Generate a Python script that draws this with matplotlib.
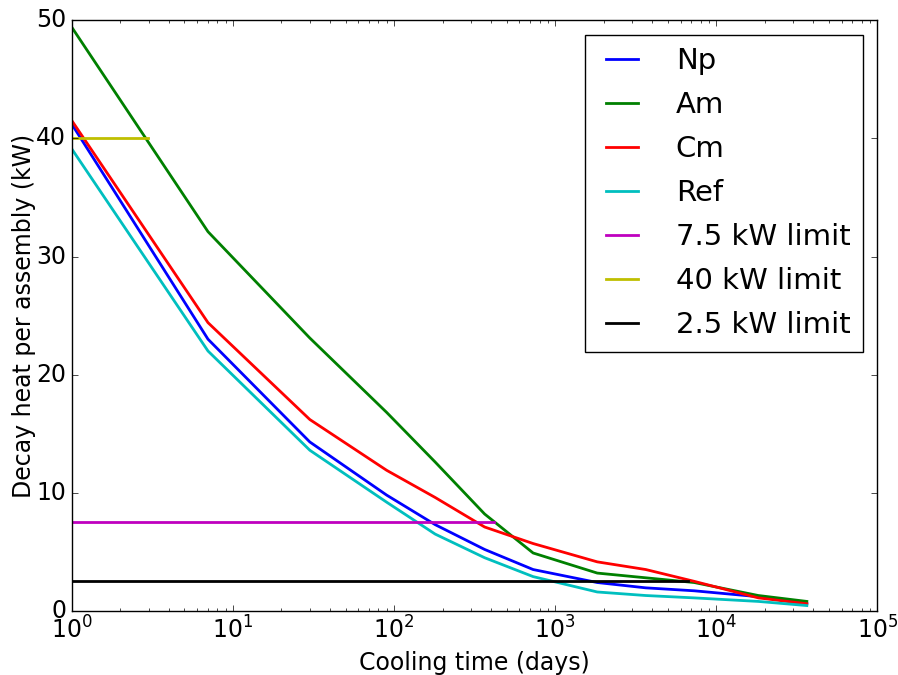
# Decay heat per assembly vs cooling time
import numpy as np
import matplotlib
matplotlib.use('Agg')
import matplotlib.pyplot as plt

plt.style.use('classic')

# cooling times (days)
t = [1, 7, 30, 90, 180, 365, 730, 1825, 3650, 7300, 18250, 36500]

np_heat = [41.2, 23.0, 14.3, 9.8, 7.3, 5.2, 3.5, 2.4, 1.95, 1.7, 1.2, 0.6]
am_heat = [49.4, 32.1, 23.1, 16.8, 12.6, 8.2, 4.9, 3.2, 2.8, 2.4, 1.3, 0.8]
cm_heat = [41.5, 24.4, 16.2, 11.9, 9.6, 7.1, 5.7, 4.15, 3.5, 2.5, 1.1, 0.6]
ref_heat = [39.1, 22.0, 13.6, 9.2, 6.5, 4.5, 2.9, 1.6, 1.3, 1.1, 0.8, 0.45]

# limits: (start, end, value)
t_75 = [1, 415]
lim_75 = [7.5, 7.5]
t_40 = [1, 2.95]
lim_40 = [40, 40]
t_25 = [1, 6700]
lim_25 = [2.5, 2.5]

fig = plt.figure(figsize=(8.98, 6.75), dpi=100)
ax = fig.add_axes([0.080, 0.095, 0.897, 0.875])

ax.semilogx(t, np_heat, 'b', lw=2, label='Np')
ax.semilogx(t, am_heat, 'g', lw=2, label='Am')
ax.semilogx(t, cm_heat, 'r', lw=2, label='Cm')
ax.semilogx(t, ref_heat, 'c', lw=2, label='Ref')
ax.semilogx(t_75, lim_75, 'm', lw=2, label='7.5 kW limit')
ax.semilogx(t_40, lim_40, 'y', lw=2, label='40 kW limit')
ax.semilogx(t_25, lim_25, 'k', lw=2, label='2.5 kW limit')

ax.set_xlim(1, 1e5)
ax.set_ylim(0, 50)
ax.set_xlabel('Cooling time (days)', fontsize=17)
ax.set_ylabel('Decay heat per assembly (kW)', fontsize=17, labelpad=0)
ax.tick_params(labelsize=17)

ax.legend(loc='upper right', fontsize=21, handlelength=1.7,
          handletextpad=1.0, labelspacing=0.55, borderpad=0.42,
          borderaxespad=0.5)

fig.savefig('out.png', dpi=100)
